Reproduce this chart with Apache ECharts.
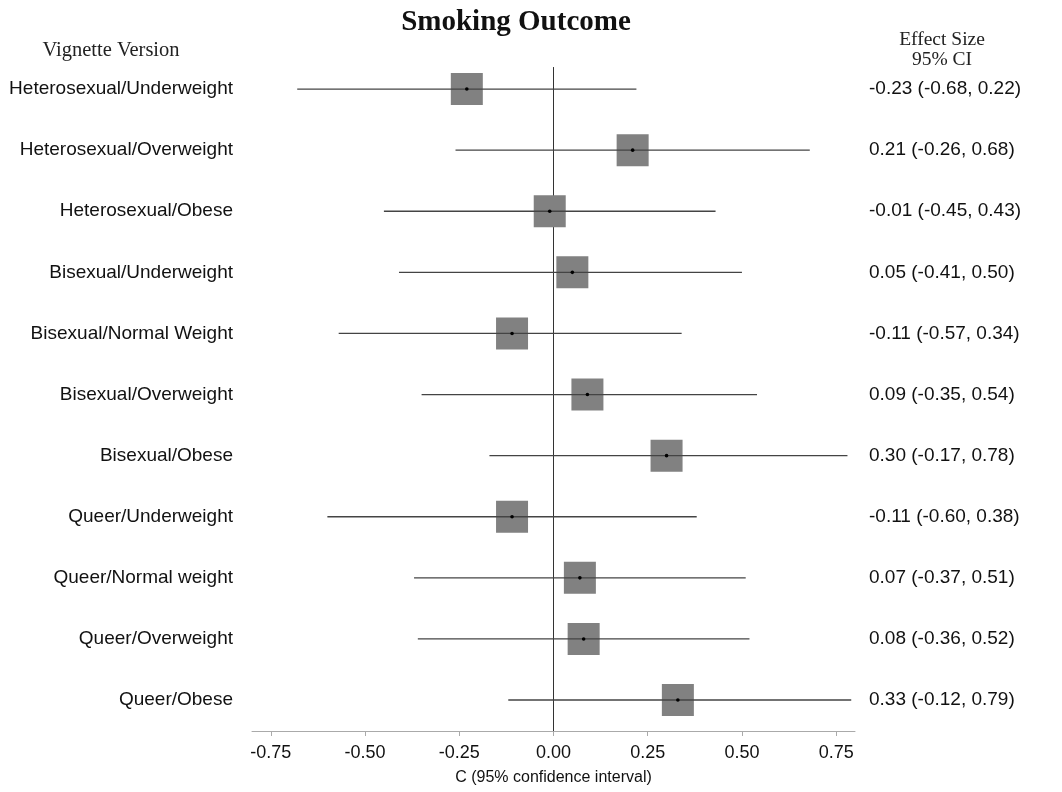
<!DOCTYPE html>
<html><head><meta charset="utf-8">
<script src="https://cdn.jsdelivr.net/npm/echarts@6/dist/echarts.min.js"></script>
<style>html,body{margin:0;padding:0;background:#fff}#c{width:1062px;height:792px}</style>
</head><body><div id="c"></div>
<script>
const categories = ["Heterosexual/Underweight","Heterosexual/Overweight","Heterosexual/Obese","Bisexual/Underweight","Bisexual/Normal Weight","Bisexual/Overweight","Bisexual/Obese","Queer/Underweight","Queer/Normal weight","Queer/Overweight","Queer/Obese"];
const estimates = [-0.23, 0.21, -0.01, 0.05, -0.11, 0.09, 0.30, -0.11, 0.07, 0.08, 0.33];
const lower = [-0.68, -0.26, -0.45, -0.41, -0.57, -0.35, -0.17, -0.60, -0.37, -0.36, -0.12];
const upper = [0.22, 0.68, 0.43, 0.50, 0.34, 0.54, 0.78, 0.38, 0.51, 0.52, 0.79];
const xTicks = [-0.75, -0.50, -0.25, 0.00, 0.25, 0.50, 0.75];

const fmt = v => v.toFixed(2);
const effectLabels = estimates.map((e,i) => fmt(e) + " (" + fmt(lower[i]) + ", " + fmt(upper[i]) + ")");
const rowIdx = categories.map((_, i) => i);
const SANS = "'Liberation Sans', Arial, sans-serif";
const SERIF = "'Liberation Serif', 'Times New Roman', serif";
const Y_MIN = -0.5, Y_MAX = 10.507;

const chart = echarts.init(document.getElementById('c'), null, {renderer: 'canvas'});
chart.setOption({
  animation: false,
  backgroundColor: '#fff',
  title: [
    {text: 'Smoking Outcome', left: 511, top: 3, textAlign: 'center',
     textStyle: {fontFamily: SERIF, fontWeight: 'bold', fontSize: 29, color: '#111'}},
    {text: 'Vignette Version', left: 106, top: 35, textAlign: 'center',
     textStyle: {fontFamily: SERIF, fontWeight: 'normal', fontSize: 20.5, color: '#222'}},
    {text: 'Effect Size\n95% CI', left: 937, top: 25, textAlign: 'center',
     textStyle: {fontFamily: SERIF, fontWeight: 'normal', fontSize: 19.5, lineHeight: 20, color: '#222'}}
  ],
  grid: {left: 252, right: 207, top: 58.5, bottom: 61},
  xAxis: {
    type: 'value', min: -0.8, max: 0.8,
    axisLine: {show: true, onZero: false, lineStyle: {color: '#aaa', width: 1}},
    axisTick: {show: true, length: 5, lineStyle: {color: '#aaa'}, customValues: xTicks},
    axisLabel: {customValues: xTicks, formatter: v => fmt(v), fontFamily: SANS, fontSize: 18, color: '#111', margin: 13},
    splitLine: {show: false},
    name: 'C (95% confidence interval)', nameLocation: 'middle', nameGap: 39,
    nameTextStyle: {fontFamily: SANS, fontSize: 16, color: '#111'}
  },
  yAxis: [
    {type: 'value', inverse: true, min: Y_MIN, max: Y_MAX, position: 'left',
     axisLine: {show: false}, axisTick: {show: false}, splitLine: {show: false},
     axisLabel: {customValues: rowIdx, formatter: v => categories[Math.round(v)] || '', fontFamily: SANS, fontSize: 19, color: '#111', margin: 19}},
    {type: 'value', inverse: true, min: Y_MIN, max: Y_MAX, position: 'right',
     axisLine: {show: false}, axisTick: {show: false}, splitLine: {show: false},
     axisLabel: {customValues: rowIdx, formatter: v => effectLabels[Math.round(v)] || '', fontFamily: SANS, fontSize: 19, color: '#111', margin: 14, align: 'left'}}
  ],
  series: [
    {type: 'line', data: [[0, -0.36], [0, Y_MAX]], symbol: 'none', silent: true,
     lineStyle: {color: '#333', width: 1}, z: 1},
    {type: 'custom', z: 2,
     data: estimates.map((e, i) => [e, i, lower[i], upper[i]]),
     encode: {x: [0, 2, 3], y: 1},
     renderItem: function (params, api) {
       const y = api.value(1);
       const c = api.coord([api.value(0), y]);
       const l = api.coord([api.value(2), y]);
       const h = api.coord([api.value(3), y]);
       const s = 32;
       return {type: 'group', children: [
         {type: 'rect', shape: {x: c[0] - s/2, y: c[1] - s/2, width: s, height: s}, style: {fill: '#818181'}},
         {type: 'line', shape: {x1: l[0], y1: l[1], x2: h[0], y2: h[1]}, style: {stroke: '#444', lineWidth: 1.3}},
         {type: 'circle', shape: {cx: c[0], cy: c[1], r: 1.8}, style: {fill: '#000'}}
       ]};
     }}
  ]
});
</script></body></html>
